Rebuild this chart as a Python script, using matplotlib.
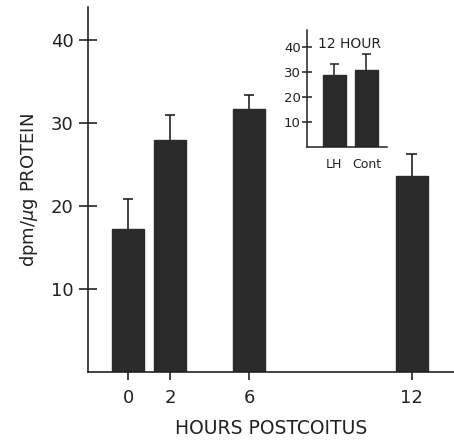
import matplotlib
matplotlib.use('Agg')
import matplotlib.pyplot as plt
import numpy as np

# main panel: hours postcoitus
hours = ['0', '2', '6', '12']
activity = [17.2, 28.0, 31.7, 23.6]
activity_err = [3.7, 3.0, 1.7, 2.7]

# inset: 12 hour
inset_groups = ['LH', 'Cont']
inset_activity = [28.8, 30.8]
inset_err = [4.4, 6.4]

BAR = '#2b2b2b'
INK = '#222222'
plt.rcParams['font.family'] = ['DejaVu Sans']


def upper_err(ax, x, y, err, cap, lw):
    # only the upper half of the error bar, as in the original
    x = np.asarray(x, dtype=float)
    top = np.asarray(y) + np.asarray(err)
    ax.vlines(x, y, top, color=INK, lw=lw)
    ax.hlines(top, x - cap, x + cap, color=INK, lw=lw)


def main():
    fig = plt.figure(figsize=(4.54, 4.42), dpi=100)

    # main axes
    ax = fig.add_axes([0.194, 0.158, 0.806, 0.826])
    xpos = np.array([0, 2, 5.76, 13.48])  # uneven spacing as in the original figure
    ax.bar(xpos, activity, width=1.52, color=BAR, edgecolor=BAR)
    upper_err(ax, xpos, activity, activity_err, 0.24, 1.2)
    ax.set_xlim(-1.9, 15.5)
    ax.set_ylim(0, 44)
    ax.set_xticks(xpos)
    ax.set_xticklabels(hours)
    ax.set_yticks([10, 20, 30, 40])
    ax.set_yticklabels(['10', '20', '30', '40'])
    for s in ['top', 'right']:
        ax.spines[s].set_visible(False)
    for s in ['left', 'bottom']:
        ax.spines[s].set_linewidth(1.2)
        ax.spines[s].set_color(INK)
    ax.tick_params(axis='y', direction='inout', length=13, width=1.2, color=INK,
                   labelsize=13, pad=4, labelcolor=INK)
    ax.tick_params(axis='x', direction='out', length=6, width=1.2, color=INK,
                   labelsize=13, pad=6, labelcolor=INK)
    ax.set_xlabel('HOURS POSTCOITUS', fontsize=13.5, color=INK, labelpad=9)
    ax.set_ylabel('dpm/$\\mu$g PROTEIN', fontsize=13, color=INK, labelpad=8)

    # inset axes
    ins = fig.add_axes([0.676, 0.667, 0.176, 0.265])
    ipos = np.arange(len(inset_groups))
    ins.bar(ipos, inset_activity, width=0.72, color=BAR, edgecolor=BAR)
    upper_err(ins, ipos, inset_activity, inset_err, 0.15, 1.1)
    ins.set_xlim(-0.86, 1.64)
    ins.set_ylim(0, 46.8)
    ins.set_xticks(ipos)
    ins.set_xticklabels(inset_groups)
    ins.set_yticks([10, 20, 30, 40])
    for s in ['top', 'right']:
        ins.spines[s].set_visible(False)
    for s in ['left', 'bottom']:
        ins.spines[s].set_linewidth(1.1)
        ins.spines[s].set_color(INK)
    ins.tick_params(axis='y', direction='inout', length=7, width=1.1, color=INK,
                    labelsize=9.5, pad=1, labelcolor=INK)
    ins.tick_params(axis='x', length=0, labelsize=9, pad=8, labelcolor=INK)
    ins.text(0.14, 0.88, '12 HOUR', transform=ins.transAxes, fontsize=10,
             color=INK, ha='left', va='center')

    fig.savefig('out.png', dpi=100)


if __name__ == '__main__':
    main()
